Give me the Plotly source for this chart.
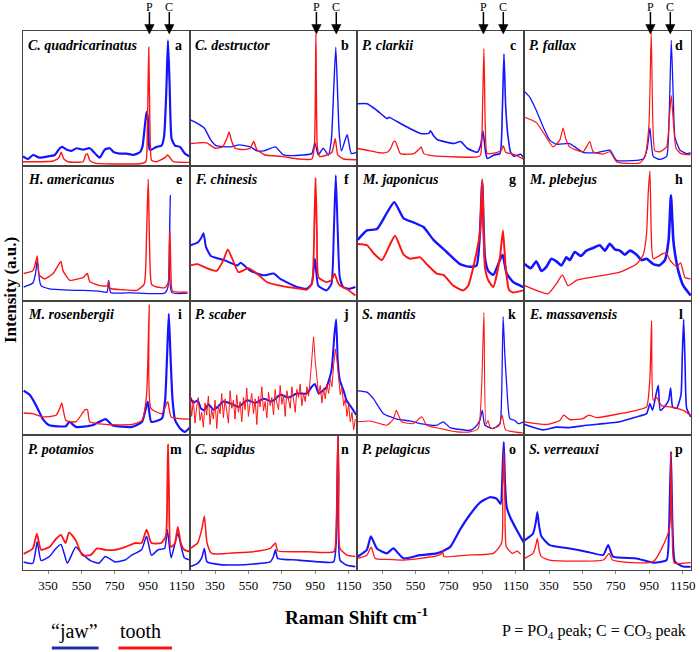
import plotly.graph_objects as go
from plotly.subplots import make_subplots

species = ["C. quadricarinatus", "C. destructor", "P. clarkii", "P. fallax",
           "H. americanus", "F. chinesis", "M. japonicus", "M. plebejus",
           "M. rosenbergii", "P. scaber", "S. mantis", "E. massavensis",
           "P. potamios", "C. sapidus", "P. pelagicus", "S. verreauxi"]
letters = list("abcdefghijklmnop")
x_ticks = [350, 550, 750, 950, 1150]
peak_pos = {"P": 957, "C": 1076}

# ---- a ----
a_jaw_x = [200, 230, 260, 300, 350, 390, 420, 435, 460, 490, 520, 560, 600, 640, 660, 690, 720, 745, 780, 820, 860, 900, 915, 930, 940, 948, 958, 970, 1000, 1030, 1045, 1058, 1068, 1078, 1090, 1110, 1140, 1170, 1195]
a_jaw_y = [0.07, 0.05, 0.08, 0.06, 0.07, 0.08, 0.13, 0.14, 0.12, 0.11, 0.13, 0.12, 0.13, 0.08, 0.06, 0.12, 0.13, 0.10, 0.09, 0.09, 0.08, 0.10, 0.14, 0.30, 0.40, 0.35, 0.12, 0.12, 0.14, 0.15, 0.22, 0.55, 0.93, 0.60, 0.20, 0.15, 0.14, 0.09, 0.07]
a_tooth_x = [200, 380, 415, 428, 445, 470, 560, 575, 585, 600, 630, 900, 935, 945, 953, 960, 970, 1000, 1050, 1065, 1080, 1100, 1195]
a_tooth_y = [0.03, 0.035, 0.06, 0.10, 0.05, 0.03, 0.03, 0.08, 0.09, 0.04, 0.02, 0.015, 0.03, 0.30, 0.88, 0.30, 0.04, 0.03, 0.06, 0.08, 0.06, 0.03, 0.025]
# ---- b ----
b_jaw_x = [202, 236, 285, 325, 355, 444, 493, 562, 602, 642, 711, 760, 879, 929, 948, 968, 998, 1028, 1047, 1060, 1073, 1085, 1093, 1107, 1141, 1166, 1196]
b_jaw_y = [0.34, 0.32, 0.28, 0.19, 0.15, 0.14, 0.155, 0.14, 0.11, 0.11, 0.14, 0.08, 0.08, 0.09, 0.17, 0.08, 0.13, 0.08, 0.20, 0.55, 0.88, 0.50, 0.25, 0.11, 0.23, 0.09, 0.10]
b_tooth_x = [202, 250, 300, 350, 395, 420, 434, 450, 470, 520, 560, 582, 600, 650, 750, 850, 930, 945, 954, 962, 975, 1020, 1050, 1070, 1085, 1120, 1196]
b_tooth_y = [0.165, 0.17, 0.17, 0.13, 0.14, 0.20, 0.25, 0.18, 0.13, 0.12, 0.13, 0.18, 0.12, 0.08, 0.07, 0.05, 0.05, 0.15, 0.98, 0.15, 0.07, 0.08, 0.10, 0.20, 0.08, 0.05, 0.045]
# ---- c ----
c_jaw_x = [204, 260, 320, 380, 390, 480, 580, 630, 640, 660, 680, 780, 820, 860, 920, 940, 954, 970, 980, 1020, 1056, 1070, 1080, 1090, 1104, 1120, 1140, 1180, 1200]
c_jaw_y = [0.46, 0.46, 0.41, 0.35, 0.36, 0.30, 0.24, 0.24, 0.26, 0.22, 0.195, 0.165, 0.18, 0.13, 0.10, 0.15, 0.26, 0.10, 0.054, 0.08, 0.09, 0.40, 0.83, 0.45, 0.22, 0.10, 0.07, 0.085, 0.055]
c_tooth_x = [204, 260, 340, 380, 400, 420, 430, 460, 540, 570, 584, 600, 650, 800, 920, 940, 952, 960, 968, 980, 1040, 1066, 1076, 1090, 1140, 1200]
c_tooth_y = [0.128, 0.115, 0.095, 0.10, 0.125, 0.18, 0.18, 0.09, 0.09, 0.12, 0.14, 0.09, 0.075, 0.065, 0.065, 0.08, 0.45, 0.87, 0.30, 0.09, 0.10, 0.12, 0.15, 0.10, 0.085, 0.047]
# ---- d ----
d_jaw_x = [204, 234, 274, 314, 354, 394, 474, 504, 554, 634, 714, 754, 874, 914, 938, 954, 974, 1014, 1054, 1070, 1082, 1094, 1104, 1134, 1174, 1198]
d_jaw_y = [0.55, 0.51, 0.41, 0.29, 0.19, 0.16, 0.165, 0.14, 0.10, 0.096, 0.116, 0.04, 0.04, 0.05, 0.13, 0.28, 0.07, 0.047, 0.07, 0.40, 0.93, 0.50, 0.21, 0.116, 0.09, 0.096]
d_tooth_x = [204, 274, 334, 374, 414, 434, 450, 474, 514, 554, 574, 594, 614, 674, 714, 754, 794, 894, 924, 948, 962, 972, 984, 1014, 1054, 1070, 1082, 1096, 1110, 1140, 1198]
d_tooth_y = [0.36, 0.32, 0.21, 0.14, 0.19, 0.28, 0.20, 0.14, 0.116, 0.104, 0.14, 0.18, 0.104, 0.087, 0.104, 0.03, 0.02, 0.02, 0.067, 0.30, 0.99, 0.30, 0.11, 0.104, 0.14, 0.35, 0.52, 0.30, 0.13, 0.09, 0.08]
# ---- e ----
e_jaw_x = [204, 259, 275, 285, 299, 308, 358, 654, 703, 713, 725, 851, 1048, 1068, 1082, 1091, 1186]
e_jaw_y = [0.10, 0.13, 0.20, 0.30, 0.15, 0.11, 0.087, 0.07, 0.062, 0.15, 0.06, 0.057, 0.055, 0.10, 0.78, 0.06, 0.055]
e_tooth_x = [204, 259, 275, 285, 297, 330, 380, 410, 427, 440, 480, 530, 560, 585, 600, 660, 705, 713, 722, 800, 880, 925, 940, 950, 958, 970, 1000, 1050, 1070, 1076, 1080, 1086, 1095, 1186]
e_tooth_y = [0.20, 0.22, 0.28, 0.33, 0.19, 0.16, 0.20, 0.26, 0.29, 0.22, 0.15, 0.16, 0.17, 0.20, 0.14, 0.11, 0.11, 0.14, 0.09, 0.08, 0.075, 0.12, 0.50, 0.90, 0.40, 0.12, 0.10, 0.095, 0.13, 0.40, 0.52, 0.20, 0.07, 0.062]
# ---- f ----
f_jaw_x = [202, 246, 265, 281, 295, 325, 404, 483, 503, 562, 642, 701, 741, 840, 899, 929, 948, 968, 1018, 1047, 1061, 1073, 1085, 1097, 1117, 1156, 1190]
f_jaw_y = [0.41, 0.43, 0.46, 0.50, 0.40, 0.33, 0.30, 0.26, 0.28, 0.22, 0.187, 0.20, 0.16, 0.10, 0.087, 0.124, 0.31, 0.11, 0.075, 0.124, 0.50, 0.93, 0.50, 0.17, 0.10, 0.087, 0.10]
f_tooth_x = [202, 246, 300, 360, 400, 426, 450, 490, 530, 550, 600, 660, 760, 860, 900, 930, 945, 952, 960, 970, 1018, 1047, 1066, 1080, 1097, 1137, 1190]
f_tooth_y = [0.26, 0.27, 0.24, 0.22, 0.30, 0.38, 0.32, 0.21, 0.23, 0.24, 0.20, 0.137, 0.104, 0.087, 0.08, 0.124, 0.60, 0.91, 0.50, 0.17, 0.137, 0.15, 0.20, 0.15, 0.11, 0.087, 0.037]
# ---- g ----
g_jaw_x = [204, 260, 319, 379, 423, 479, 538, 598, 658, 737, 817, 877, 916, 936, 950, 966, 986, 1016, 1056, 1072, 1096, 1135, 1195]
g_jaw_y = [0.45, 0.52, 0.53, 0.65, 0.73, 0.61, 0.58, 0.545, 0.45, 0.36, 0.27, 0.25, 0.26, 0.50, 0.88, 0.32, 0.22, 0.19, 0.30, 0.34, 0.20, 0.137, 0.10]
g_tooth_x = [204, 260, 300, 349, 399, 428, 479, 518, 578, 617, 677, 717, 777, 836, 866, 906, 936, 950, 966, 986, 1016, 1056, 1074, 1090, 1110, 1135, 1195]
g_tooth_y = [0.42, 0.41, 0.35, 0.30, 0.42, 0.48, 0.34, 0.31, 0.32, 0.27, 0.20, 0.19, 0.11, 0.075, 0.11, 0.30, 0.50, 0.90, 0.25, 0.15, 0.10, 0.32, 0.52, 0.25, 0.08, 0.06, 0.075]
# ---- h ----
h_jaw_x = [204, 240, 274, 304, 334, 364, 394, 424, 454, 474, 504, 540, 574, 614, 654, 684, 714, 744, 774, 804, 834, 874, 904, 934, 974, 1010, 1044, 1066, 1080, 1094, 1104, 1124, 1154, 1198]
h_jaw_y = [0.27, 0.24, 0.29, 0.22, 0.25, 0.31, 0.29, 0.26, 0.32, 0.30, 0.36, 0.33, 0.37, 0.39, 0.41, 0.37, 0.42, 0.38, 0.37, 0.34, 0.37, 0.34, 0.30, 0.31, 0.27, 0.26, 0.30, 0.45, 0.78, 0.45, 0.35, 0.22, 0.11, 0.037]
h_tooth_x = [204, 274, 344, 394, 430, 464, 514, 594, 674, 774, 874, 914, 934, 944, 954, 962, 974, 1034, 1054, 1074, 1114, 1138, 1164, 1198]
h_tooth_y = [0.11, 0.075, 0.05, 0.124, 0.19, 0.11, 0.15, 0.17, 0.187, 0.21, 0.27, 0.34, 0.50, 0.80, 0.96, 0.50, 0.31, 0.35, 0.35, 0.30, 0.25, 0.28, 0.17, 0.16]
# ---- i ----
i_jaw_x = [204, 240, 279, 319, 358, 457, 477, 517, 616, 695, 735, 853, 913, 947, 968, 1032, 1051, 1063, 1073, 1083, 1095, 1111, 1141, 1170, 1200]
i_jaw_y = [0.33, 0.30, 0.22, 0.12, 0.074, 0.067, 0.10, 0.062, 0.074, 0.12, 0.074, 0.062, 0.10, 0.25, 0.10, 0.124, 0.26, 0.60, 0.90, 0.60, 0.27, 0.11, 0.05, 0.025, 0.06]
i_tooth_x = [204, 260, 319, 398, 420, 432, 457, 517, 572, 586, 600, 695, 853, 913, 940, 956, 966, 1032, 1067, 1087, 1200]
i_tooth_y = [0.165, 0.16, 0.136, 0.148, 0.20, 0.24, 0.11, 0.10, 0.19, 0.19, 0.10, 0.08, 0.08, 0.11, 0.30, 0.97, 0.20, 0.16, 0.25, 0.136, 0.12]
# ---- j ----
j_jaw_x = [202, 220, 246, 265, 285, 310, 340, 365, 400, 444, 490, 543, 590, 642, 690, 741, 790, 840, 900, 929, 948, 970, 995, 1018, 1047, 1065, 1075, 1085, 1097, 1120, 1137, 1165, 1196]
j_jaw_y = [0.28, 0.24, 0.26, 0.20, 0.185, 0.23, 0.19, 0.21, 0.25, 0.235, 0.21, 0.26, 0.24, 0.27, 0.25, 0.30, 0.28, 0.31, 0.31, 0.36, 0.38, 0.31, 0.33, 0.36, 0.48, 0.75, 0.86, 0.55, 0.41, 0.33, 0.26, 0.21, 0.15]
j_tooth_x = [200, 210, 220, 230, 240, 250, 260, 270, 280, 290,
             300, 310, 320, 330, 340, 350, 360, 370, 380, 390,
             400, 410, 420, 430, 440, 450, 460, 470, 480, 490,
             500, 510, 520, 530, 540, 550, 560, 570, 580, 590,
             600, 610, 620, 630, 640, 650, 660, 670, 680, 690,
             700, 710, 720, 730, 740, 750, 760, 770, 780, 790,
             800, 810, 820, 830, 840, 850, 860, 870, 880, 890,
             900, 910, 920, 930, 940, 950, 960, 970, 980, 990,
             1000, 1010, 1020, 1030, 1040, 1050, 1060, 1070, 1080, 1090,
             1100, 1110, 1120, 1130, 1140, 1150, 1160, 1170, 1180, 1190]
j_tooth_y = [0.30, 0.14, 0.26, 0.09, 0.21, 0.28, 0.11, 0.17, 0.06, 0.24,
             0.15, 0.29, 0.08, 0.19, 0.12, 0.26, 0.05, 0.22, 0.16, 0.31,
             0.13, 0.27, 0.18, 0.09, 0.33, 0.20, 0.26, 0.12, 0.30, 0.17,
             0.25, 0.10, 0.28, 0.19, 0.35, 0.14, 0.24, 0.31, 0.16, 0.27,
             0.08, 0.29, 0.21, 0.36, 0.18, 0.25, 0.13, 0.32, 0.22, 0.28,
             0.15, 0.34, 0.24, 0.19, 0.37, 0.23, 0.30, 0.14, 0.33, 0.26,
             0.20, 0.36, 0.27, 0.17, 0.34, 0.28, 0.38, 0.22, 0.31, 0.25,
             0.36, 0.29, 0.42, 0.58, 0.73, 0.55, 0.40, 0.30, 0.37, 0.24,
             0.35, 0.27, 0.38, 0.31, 0.42, 0.36, 0.52, 0.64, 0.56, 0.40,
             0.30, 0.36, 0.22, 0.27, 0.14, 0.23, 0.10, 0.17, 0.04, 0.12]
# ---- k ----
k_jaw_x = [204, 259, 299, 359, 439, 518, 578, 678, 717, 757, 877, 907, 935, 950, 966, 1016, 1056, 1066, 1075, 1085, 1096, 1115, 1145, 1165, 1198]
k_jaw_y = [0.33, 0.32, 0.27, 0.16, 0.12, 0.106, 0.086, 0.074, 0.10, 0.057, 0.037, 0.06, 0.11, 0.185, 0.074, 0.05, 0.086, 0.30, 0.88, 0.60, 0.38, 0.124, 0.11, 0.086, 0.10]
k_tooth_x = [204, 279, 379, 418, 435, 468, 538, 588, 618, 697, 797, 876, 926, 946, 960, 972, 985, 1000, 1050, 1069, 1090, 1198]
k_tooth_y = [0.10, 0.106, 0.074, 0.12, 0.185, 0.10, 0.086, 0.136, 0.074, 0.05, 0.025, 0.025, 0.05, 0.35, 0.91, 0.08, 0.11, 0.05, 0.07, 0.15, 0.04, 0.017]
# ---- l ----
l_jaw_x = [204, 314, 394, 474, 574, 674, 774, 874, 934, 954, 970, 990, 1004, 1016, 1040, 1066, 1078, 1090, 1114, 1140, 1148, 1156, 1164, 1174, 1198]
l_jaw_y = [0.08, 0.04, 0.06, 0.057, 0.074, 0.086, 0.10, 0.136, 0.16, 0.235, 0.185, 0.30, 0.37, 0.185, 0.21, 0.26, 0.35, 0.21, 0.20, 0.30, 0.60, 0.86, 0.55, 0.20, 0.136]
l_tooth_x = [204, 334, 414, 438, 474, 554, 588, 634, 774, 874, 934, 954, 964, 974, 994, 1024, 1074, 1114, 1154, 1198]
l_tooth_y = [0.10, 0.08, 0.11, 0.15, 0.116, 0.124, 0.15, 0.131, 0.16, 0.185, 0.21, 0.43, 0.85, 0.26, 0.28, 0.22, 0.21, 0.20, 0.185, 0.148]
# ---- m ----
m_jaw_x = [204, 259, 285, 308, 358, 397, 427, 447, 466, 516, 555, 604, 654, 693, 752, 811, 851, 910, 940, 969, 1009, 1048, 1064, 1087, 1127, 1166, 1200]
m_jaw_y = [0.06, 0.05, 0.21, 0.07, 0.10, 0.16, 0.19, 0.12, 0.05, 0.17, 0.12, 0.07, 0.05, 0.10, 0.06, 0.074, 0.11, 0.15, 0.25, 0.11, 0.15, 0.16, 0.30, 0.09, 0.27, 0.09, 0.074]
m_tooth_x = [204, 259, 283, 308, 358, 397, 427, 455, 476, 516, 555, 604, 644, 693, 752, 811, 870, 910, 940, 969, 1028, 1055, 1064, 1068, 1074, 1085, 1110, 1127, 1145, 1166, 1200]
m_tooth_y = [0.12, 0.16, 0.27, 0.15, 0.17, 0.23, 0.26, 0.20, 0.28, 0.22, 0.11, 0.11, 0.16, 0.15, 0.15, 0.17, 0.20, 0.20, 0.30, 0.20, 0.20, 0.25, 0.60, 0.93, 0.60, 0.17, 0.20, 0.32, 0.20, 0.15, 0.136]
# ---- n ----
n_jaw_x = [202, 246, 270, 286, 302, 380, 480, 580, 680, 700, 712, 725, 840, 980, 1060, 1075, 1082, 1086, 1090, 1098, 1135, 1190]
n_jaw_y = [0.025, 0.05, 0.09, 0.16, 0.06, 0.04, 0.037, 0.044, 0.06, 0.10, 0.15, 0.087, 0.074, 0.06, 0.06, 0.20, 0.70, 0.99, 0.70, 0.074, 0.037, 0.025]
n_tooth_x = [202, 246, 270, 286, 302, 330, 480, 580, 680, 712, 725, 900, 1062, 1075, 1082, 1086, 1090, 1098, 1140, 1190]
n_tooth_y = [0.16, 0.20, 0.30, 0.40, 0.20, 0.123, 0.128, 0.136, 0.16, 0.20, 0.143, 0.136, 0.136, 0.30, 0.75, 0.99, 0.70, 0.16, 0.11, 0.10]
# ---- o ----
o_jaw_x = [204, 259, 283, 319, 379, 418, 478, 578, 677, 757, 817, 876, 936, 996, 1036, 1060, 1072, 1079, 1086, 1096, 1116, 1155, 1200]
o_jaw_y = [0.10, 0.15, 0.25, 0.16, 0.124, 0.16, 0.086, 0.11, 0.123, 0.17, 0.30, 0.41, 0.50, 0.54, 0.53, 0.49, 0.75, 0.95, 0.65, 0.47, 0.395, 0.30, 0.20]
o_tooth_x = [204, 259, 285, 309, 379, 478, 578, 677, 705, 713, 720, 857, 1016, 1066, 1072, 1079, 1086, 1094, 1130, 1160, 1180]
o_tooth_y = [0.086, 0.11, 0.17, 0.086, 0.079, 0.074, 0.086, 0.104, 0.12, 0.143, 0.10, 0.111, 0.123, 0.20, 0.60, 0.89, 0.50, 0.173, 0.123, 0.14, 0.116]
# ---- p ----
p_jaw_x = [204, 254, 270, 280, 290, 304, 354, 474, 574, 674, 704, 734, 874, 974, 1054, 1068, 1080, 1090, 1104, 1154, 1198]
p_jaw_y = [0.22, 0.27, 0.35, 0.43, 0.33, 0.25, 0.185, 0.16, 0.136, 0.111, 0.185, 0.099, 0.086, 0.054, 0.074, 0.30, 0.88, 0.30, 0.062, 0.025, 0.025]
p_tooth_x = [204, 254, 270, 280, 292, 304, 354, 674, 710, 730, 974, 1070, 1078, 1088, 1100, 1198]
p_tooth_y = [0.086, 0.123, 0.18, 0.235, 0.14, 0.099, 0.074, 0.074, 0.123, 0.074, 0.062, 0.30, 0.87, 0.30, 0.054, 0.054]

panels = [
    (a_jaw_x, a_jaw_y, a_tooth_x, a_tooth_y), (b_jaw_x, b_jaw_y, b_tooth_x, b_tooth_y),
    (c_jaw_x, c_jaw_y, c_tooth_x, c_tooth_y), (d_jaw_x, d_jaw_y, d_tooth_x, d_tooth_y),
    (e_jaw_x, e_jaw_y, e_tooth_x, e_tooth_y), (f_jaw_x, f_jaw_y, f_tooth_x, f_tooth_y),
    (g_jaw_x, g_jaw_y, g_tooth_x, g_tooth_y), (h_jaw_x, h_jaw_y, h_tooth_x, h_tooth_y),
    (i_jaw_x, i_jaw_y, i_tooth_x, i_tooth_y), (j_jaw_x, j_jaw_y, j_tooth_x, j_tooth_y),
    (k_jaw_x, k_jaw_y, k_tooth_x, k_tooth_y), (l_jaw_x, l_jaw_y, l_tooth_x, l_tooth_y),
    (m_jaw_x, m_jaw_y, m_tooth_x, m_tooth_y), (n_jaw_x, n_jaw_y, n_tooth_x, n_tooth_y),
    (o_jaw_x, o_jaw_y, o_tooth_x, o_tooth_y), (p_jaw_x, p_jaw_y, p_tooth_x, p_tooth_y),
]

BLUE = "#1414ff"
RED = "#ff1414"
jaw_width = [2.2, 1.4, 1.6, 1.3, 1.3, 2.0, 2.4, 2.6, 2.2, 2.0, 1.3, 1.6, 1.5, 1.6, 2.2, 2.0]
tooth_width = [1.4, 1.4, 1.3, 1.2, 1.4, 1.8, 2.0, 1.3, 1.3, 1.0, 1.1, 1.3, 1.8, 1.5, 1.3, 1.3]
SERIF = "Liberation Serif"

L, R, T, B = 23, 695, 31, 570
fig = make_subplots(rows=4, cols=4, horizontal_spacing=0, vertical_spacing=0)

for idx, (jx, jy, tx, ty) in enumerate(panels):
    r, c = idx // 4 + 1, idx % 4 + 1
    t_shape = "linear" if idx == 9 else "spline"
    fig.add_trace(go.Scatter(x=jx, y=jy, mode="lines",
                             line=dict(color=BLUE, width=jaw_width[idx], shape="spline", smoothing=0.5),
                             showlegend=False, hoverinfo="skip", cliponaxis=True), row=r, col=c)
    fig.add_trace(go.Scatter(x=tx, y=ty, mode="lines",
                             line=dict(color=RED, width=tooth_width[idx], shape=t_shape, smoothing=0.5),
                             showlegend=False, hoverinfo="skip", cliponaxis=True), row=r, col=c)
    sfx = "" if idx == 0 else str(idx + 1)
    fig.add_annotation(xref=f"x{sfx} domain", yref=f"y{sfx} domain", x=0.02, y=0.965,
                       xanchor="left", yanchor="top", showarrow=False,
                       text=f"<b><i>{species[idx]}</i></b>",
                       font=dict(family=SERIF, size=14, color="black"))
    fig.add_annotation(xref=f"x{sfx} domain", yref=f"y{sfx} domain", x=0.962, y=0.965,
                       xanchor="right", yanchor="top", showarrow=False,
                       text=f"<b>{letters[idx]}</b>",
                       font=dict(family=SERIF, size=14, color="black"))

fig.update_xaxes(range=[200, 1200], showgrid=False, zeroline=False, showline=True, mirror=True,
                 linecolor="#444444", linewidth=1, tickvals=x_ticks, showticklabels=False, ticks="")
fig.update_yaxes(range=[0, 1], showgrid=False, zeroline=False, showline=True, mirror=True,
                 linecolor="#444444", linewidth=1, showticklabels=False, ticks="")
for c in range(1, 5):
    fig.update_xaxes(showticklabels=True, ticks="outside", ticklen=3, tickcolor="#888888",
                     tickfont=dict(family=SERIF, size=13, color="black"), row=4, col=c)


def py(p):
    return (B - p) / (B - T)


def pxp(p):
    return (p - L) / (R - L)


half_w = 28
for c in range(1, 5):
    xr = "x" if c == 1 else f"x{c}"
    for lab, xv in peak_pos.items():
        fig.add_shape(type="line", xref=xr, yref="paper", x0=xv, x1=xv, y0=py(12), y1=py(26),
                      line=dict(color="black", width=1.5))
        fig.add_shape(type="path", xref=xr, yref="paper",
                      path=f"M {xv - half_w},{py(24.5)} L {xv + half_w},{py(24.5)} L {xv},{py(34)} Z",
                      fillcolor="black", line=dict(color="black", width=0.5))
        fig.add_annotation(xref=xr, yref="paper", x=xv, y=py(7), text=lab, showarrow=False,
                           xanchor="center", yanchor="middle",
                           font=dict(family=SERIF, size=12, color="black"))

fig.add_annotation(xref="paper", yref="paper", x=pxp(10), y=py(290), text="<b>Intensity (a.u.)</b>",
                   textangle=-90, showarrow=False, xanchor="center", yanchor="middle",
                   font=dict(family=SERIF, size=17, color="black"))
fig.add_annotation(xref="paper", yref="paper", x=pxp(358), y=py(616), text="<b>Raman Shift cm<sup>-1</sup></b>",
                   showarrow=False, xanchor="center", yanchor="middle",
                   font=dict(family=SERIF, size=19, color="black"))
fig.add_annotation(xref="paper", yref="paper", x=pxp(597), y=py(631),
                   text="P = PO<sub>4</sub> peak; C = CO<sub>3</sub> peak",
                   showarrow=False, xanchor="center", yanchor="middle",
                   font=dict(family=SERIF, size=16, color="black"))
fig.add_annotation(xref="paper", yref="paper", x=pxp(75), y=py(631), text="\u201cjaw\u201d",
                   showarrow=False, xanchor="center", yanchor="middle",
                   font=dict(family=SERIF, size=20, color="black"))
fig.add_annotation(xref="paper", yref="paper", x=pxp(141), y=py(631), text="tooth",
                   showarrow=False, xanchor="center", yanchor="middle",
                   font=dict(family=SERIF, size=20, color="black"))
fig.add_shape(type="line", xref="paper", yref="paper", x0=pxp(52), x1=pxp(99), y0=py(648), y1=py(648),
              line=dict(color="#2030a0", width=3))
fig.add_shape(type="line", xref="paper", yref="paper", x0=pxp(119), x1=pxp(173), y0=py(648), y1=py(648),
              line=dict(color=RED, width=3))

fig.update_layout(width=700, height=652, margin=dict(l=L, r=700 - R, t=T, b=652 - B),
                  paper_bgcolor="white", plot_bgcolor="white", showlegend=False)

fig.write_html("out.html", config={"displayModeBar": False},
               post_script="document.body.style.margin='0';document.body.style.overflow='hidden';")
